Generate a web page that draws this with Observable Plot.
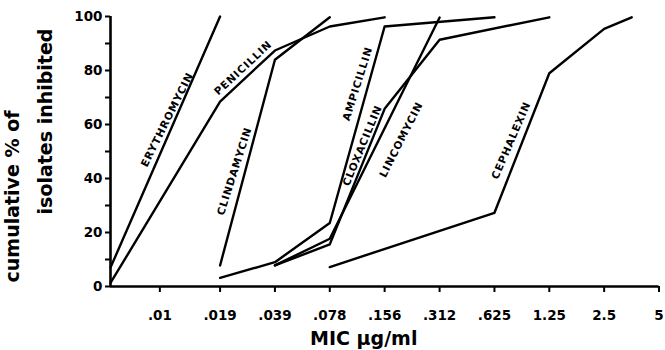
<!DOCTYPE html>
<html>
<head>
<meta charset="utf-8">
<script src="https://cdn.jsdelivr.net/npm/d3@7"></script>
<script src="https://cdn.jsdelivr.net/npm/@observablehq/plot@0.6"></script>
<style>
  body { margin: 0; background: #fff; }
  #chart svg { font-family: "DejaVu Sans", sans-serif; }
</style>
</head>
<body>
<div id="chart"></div>
<script>
// ---- axis ticks ----
const xDomain = [5 / 1024, 5];
const xTickValues = [0.00911, 0.0195, 0.039, 0.078, 0.156, 0.3125, 0.625, 1.25, 2.5, 5];
const xTickLabels = [".01", ".019", ".039", ".078", ".156", ".312", ".625", "1.25", "2.5", "5"];
const yTickValues = [0, 10, 20, 30, 40, 50, 60, 70, 80, 90, 100];
const yTickLabels = ["0", "", "20", "", "40", "", "60", "", "80", "", "100"];

// ---- series (MIC in µg/ml, cumulative % inhibited) ----
const erythromycinMIC = [5 / 1024, 0.0195];
const erythromycinPct = [7, 100];
const penicillinMIC = [5 / 1024, 0.0195, 0.039, 0.078, 0.156];
const penicillinPct = [1.3, 68.5, 87.4, 96.3, 99.7];
const clindamycinMIC = [0.0195, 0.039, 0.078];
const clindamycinPct = [7.8, 84, 99.7];
const ampicillinMIC = [0.0195, 0.039, 0.078, 0.156, 0.625];
const ampicillinPct = [3.2, 9, 23.5, 96.3, 99.7];
const cloxacillinMIC = [0.039, 0.078, 0.156, 0.3125, 1.25];
const cloxacillinPct = [7.8, 15.6, 65.8, 91.4, 99.7];
const lincomycinMIC = [0.039, 0.078, 0.3125];
const lincomycinPct = [7.8, 17.7, 99.6];
const cephalexinMIC = [0.078, 0.625, 1.25, 2.5, 3.54];
const cephalexinPct = [7.2, 27.3, 79, 95.4, 99.7];

// ---- series labels ----
const labelNames = ["ERYTHROMYCIN", "PENICILLIN", "CLINDAMYCIN", "AMPICILLIN", "CLOXACILLIN", "LINCOMYCIN", "CEPHALEXIN"];
const labelMIC = [0.0100, 0.0261, 0.0234, 0.1110, 0.1179, 0.1925, 0.773];
const labelPct = [61.8, 80.9, 42.7, 75.1, 52.2, 54.4, 54.1];
const labelAngle = [-63.5, -43, -72.2, -72.4, -67.5, -63, -66.6];

const xTitle = "MIC µg/ml";
const yTitleLines = ["cumulative % of", "isolates inhibited"];

// ---- build tables ----
const seriesList = [
  ["Erythromycin", erythromycinMIC, erythromycinPct],
  ["Penicillin", penicillinMIC, penicillinPct],
  ["Clindamycin", clindamycinMIC, clindamycinPct],
  ["Ampicillin", ampicillinMIC, ampicillinPct],
  ["Cloxacillin", cloxacillinMIC, cloxacillinPct],
  ["Lincomycin", lincomycinMIC, lincomycinPct],
  ["Cephalexin", cephalexinMIC, cephalexinPct]
];
const rows = seriesList.flatMap(([drug, mic, pct]) => mic.map((m, i) => ({drug, mic: m, pct: pct[i]})));
const labels = labelNames.map((name, i) => ({name, mic: labelMIC[i], pct: labelPct[i], angle: labelAngle[i]}));
const xLabelMap = new Map(xTickValues.map((v, i) => [v, xTickLabels[i]]));
const yLabelMap = new Map(yTickValues.map((v, i) => [v, yTickLabels[i]]));

const chart = Plot.plot({
  width: 665,
  height: 350,
  marginLeft: 110,
  marginRight: 6.5,
  marginTop: 16,
  marginBottom: 64,
  style: {background: "white", color: "black", fontFamily: "DejaVu Sans"},
  x: {type: "log", base: 2, domain: xDomain, label: null},
  y: {domain: [0, 100], label: null},
  marks: [
    Plot.axisY({ticks: yTickValues, tickFormat: d => yLabelMap.get(d), tickSize: 5, tickPadding: 3,
      strokeWidth: 2, fontSize: 13.5, fontWeight: "bold", label: null}),
    Plot.axisX({ticks: xTickValues, tickFormat: d => xLabelMap.get(d), tickSize: 6, tickPadding: 18,
      strokeWidth: 2, fontSize: 13.5, fontWeight: "bold", label: null}),
    Plot.ruleX([xDomain[0]], {strokeWidth: 2.6, stroke: "black"}),
    Plot.ruleY([0], {strokeWidth: 2.6, stroke: "black"}),
    Plot.line(rows, {x: "mic", y: "pct", z: "drug", stroke: "black", strokeWidth: 2.4}),
    Plot.text(labels, {x: "mic", y: "pct", text: "name", rotate: d => d.angle,
      fontSize: 10.5, fontWeight: "bold", fill: "black"}),
    Plot.text([yTitleLines[0]], {text: d => d, frameAnchor: "top-left", dx: -97.6, dy: 180, rotate: -90,
      textAnchor: "middle", lineAnchor: "middle", fontSize: 19, fontWeight: "bold", fill: "black"}),
    Plot.text([yTitleLines[1]], {text: d => d, frameAnchor: "top-left", dx: -64.6, dy: 105, rotate: -90,
      textAnchor: "middle", lineAnchor: "middle", fontSize: 19, fontWeight: "bold", fill: "black"}),
    Plot.text([xTitle], {text: d => d, frameAnchor: "bottom", dx: -21, dy: 52,
      textAnchor: "middle", lineAnchor: "middle", fontSize: 19, fontWeight: "bold", fill: "black"})
  ]
});
document.getElementById("chart").appendChild(chart);

// letter spacing for the in-plot series labels
d3.select(chart).selectAll("text").each(function() {
  if (labelNames.includes(this.textContent)) this.style.letterSpacing = "0.9px";
});
</script>
</body>
</html>
